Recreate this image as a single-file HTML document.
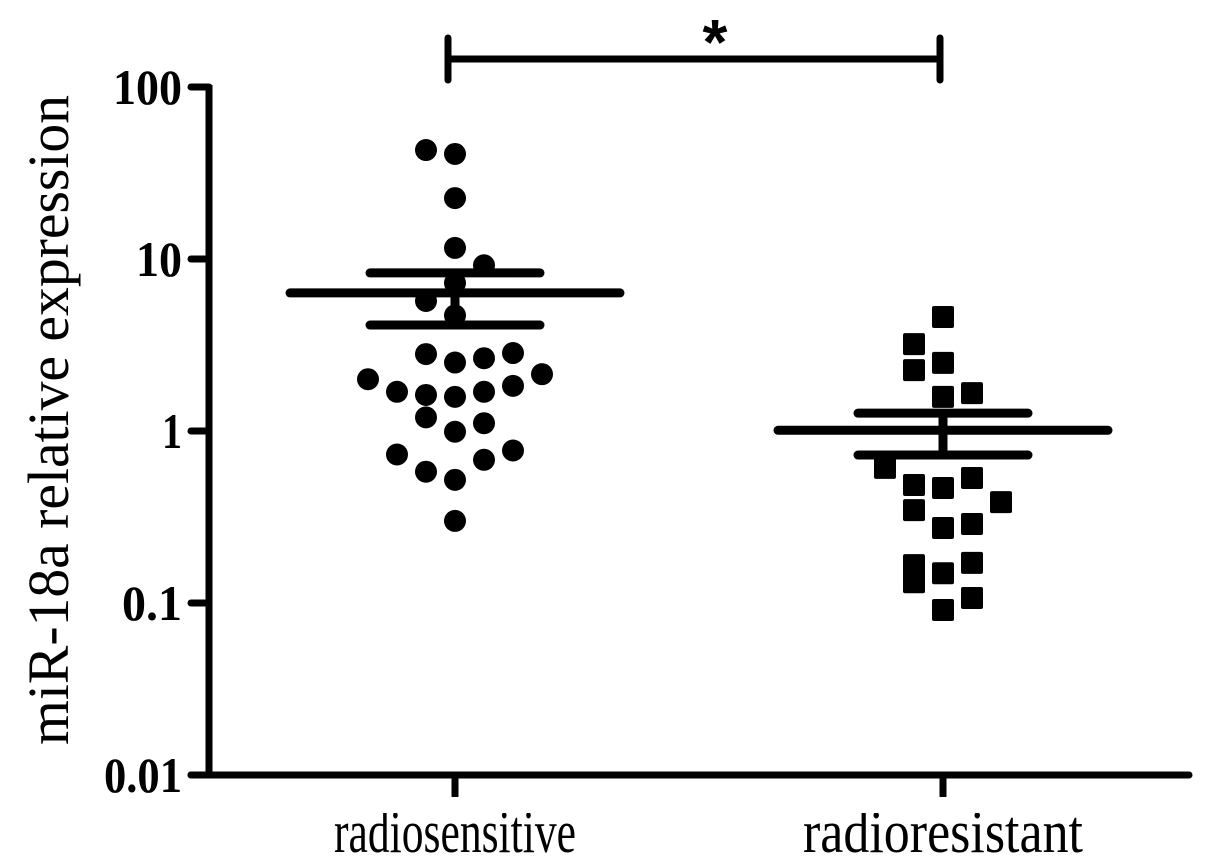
<!DOCTYPE html>
<html><head><meta charset="utf-8"><style>html,body{margin:0;padding:0;background:#fff;}svg{display:block;}</style></head>
<body>
<svg id="chart" width="1205" height="868" viewBox="0 0 1205 868" xmlns="http://www.w3.org/2000/svg">
<g id="marks"></g>
<g id="axes"></g>
</svg>
<script>
const categories = ["radiosensitive", "radioresistant"];
const sensitiveValues = [43, 40.8, 22.6, 11.6, 9.2, 7.25, 5.7, 4.7, 2.8, 2.5, 2.65, 2.84, 2.0, 1.69, 1.62, 1.58, 1.69, 1.83, 2.14, 1.2, 0.99, 1.11, 0.73, 0.58, 0.52, 0.68, 0.77, 0.30];
const sensitiveColumns = [-1, 0, 0, 0, 1, 0, -1, 0, -1, 0, 1, 2, -3, -2, -1, 0, 1, 2, 3, -1, 0, 1, -2, -1, 0, 1, 2, 0];
const resistantValues = [4.6, 3.2, 2.26, 2.49, 1.58, 1.66, 0.61, 0.485, 0.466, 0.533, 0.347, 0.386, 0.273, 0.288, 0.166, 0.132, 0.149, 0.171, 0.107, 0.091];
const resistantColumns = [0, -1, -1, 0, 0, 1, -2, -1, 0, 1, -1, 2, 0, 1, -1, -1, 0, 1, 1, 0];
const means = [6.35, 1.01];
const semUpper = [8.3, 1.27];
const semLower = [4.13, 0.725];
const yTicks = [100, 10, 1, 0.1, 0.01];
const yTickLabels = ["100", "10", "1", "0.1", "0.01"];

const NS = "http://www.w3.org/2000/svg";
const marks = document.getElementById("marks");
const axes = document.getElementById("axes");
const yScale = v => 431 - 172 * Math.log10(v);
const catX = [455, 943];
const colStep = 29;
function mk(tag, attrs, parent){const e=document.createElementNS(NS,tag);for(const k in attrs)e.setAttribute(k,attrs[k]);parent.appendChild(e);return e;}

sensitiveValues.forEach((v,i)=>{
  const c = mk("circle",{cx:catX[0]+sensitiveColumns[i]*colStep,cy:yScale(v),r:11,fill:"#000"},marks);
  
  
});
resistantValues.forEach((v,i)=>{
  const r = mk("rect",{x:catX[1]+resistantColumns[i]*colStep-11,y:yScale(v)-11,width:22,height:22,rx:2,fill:"#000"},marks);
  
  
});
means.forEach((m,i)=>{
  const x=catX[i];
  const ml = mk("line",{x1:x-165,x2:x+165,y1:yScale(m),y2:yScale(m),stroke:"#000","stroke-width":9,"stroke-linecap":"round"},marks);
  
  
  const vl = mk("line",{x1:x,x2:x,y1:yScale(semUpper[i]),y2:yScale(semLower[i]),stroke:"#000","stroke-width":9},marks);
  
  
  [semUpper[i],semLower[i]].forEach(s=>{
    const sl = mk("line",{x1:x-85,x2:x+85,y1:yScale(s),y2:yScale(s),stroke:"#000","stroke-width":9,"stroke-linecap":"round"},marks);
    
    
  });
});
const ya = mk("line",{x1:209,x2:209,y1:yScale(100)-2,y2:777,stroke:"#000","stroke-width":7},axes);


const xa = mk("line",{x1:191,x2:1189,y1:775,y2:775,stroke:"#000","stroke-width":7,"stroke-linecap":"round"},axes);


const tickLabelWidths=[69,46,20,60,78];
yTicks.forEach((t,i)=>{
  const y=yScale(t);
  const tk = mk("line",{x1:191,x2:209,y1:y,y2:y,stroke:"#000","stroke-width":7,"stroke-linecap":"round"},axes);
  
  
  const lb = mk("text",{x:182-tickLabelWidths[i],y:y+17,textLength:tickLabelWidths[i],lengthAdjust:"spacingAndGlyphs","font-family":"Liberation Serif, serif","font-weight":"bold","font-size":50},axes);
  lb.textContent = yTickLabels[i];
  
  
});
const labelWidths=[242,280];
categories.forEach((c,i)=>{
  const tk = mk("line",{x1:catX[i],x2:catX[i],y1:775,y2:796,stroke:"#000","stroke-width":7,"stroke-linecap":"round"},axes);
  
  
  const lb = mk("text",{x:catX[i]-labelWidths[i]/2,y:852,textLength:labelWidths[i],lengthAdjust:"spacingAndGlyphs","font-family":"Liberation Serif, serif","font-size":60},axes);
  lb.textContent = c;
  
  
});
const cover = mk("rect",{x:300,y:797,width:800,height:16,fill:"#fff"},axes);


const yt = mk("text",{x:0,y:0,transform:"translate(68,420) rotate(-90)","text-anchor":"middle",textLength:650,lengthAdjust:"spacingAndGlyphs","font-family":"Liberation Serif, serif","font-size":58},axes);
yt.textContent = "miR-18a relative expression";


const br = mk("path",{d:`M${catX[0]-7} 38 V80 M${catX[0]-7} 59 H${catX[1]-3} M${catX[1]-3} 38 V80`,stroke:"#000","stroke-width":7,fill:"none","stroke-linecap":"round"},axes);


const st = mk("text",{x:715,y:64,"text-anchor":"middle","font-family":"Liberation Sans, sans-serif","font-weight":"bold","font-size":64},axes);
st.textContent = "*";


</script>
</body></html>
